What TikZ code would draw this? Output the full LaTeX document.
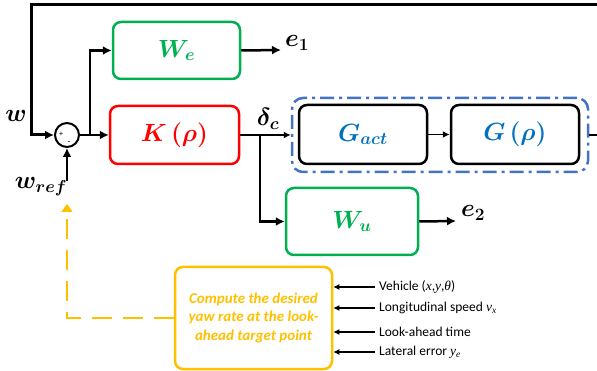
\documentclass[tikz,border=0pt]{standalone}
\usepackage{fontspec}
\usepackage{amsmath,bm}
\setmainfont{Carlito}
\newfontfamily\tmsfont{Liberation Serif}
\usetikzlibrary{arrows.meta}
\definecolor{grn}{RGB}{0,176,80}
\definecolor{rd}{RGB}{255,0,0}
\definecolor{blu}{RGB}{0,112,192}
\definecolor{dblu}{RGB}{68,114,196}
\definecolor{org}{RGB}{255,192,0}
\begin{document}
\begin{tikzpicture}[x=1pt,y=-1pt,
  blockbox/.style={draw, rounded corners=8pt, line width=2.5pt, align=center, inner sep=0pt},
  bigtxt/.style={font=\fontsize{24}{27}\selectfont},
  ln/.style={line width=2.5pt, -{Latex[length=9pt,width=9pt]}},
  thinln/.style={line width=1.5pt, -{Latex[length=7pt,width=7pt]}},
  inln/.style={line width=1.3pt, -{Latex[length=6pt,width=6pt]}},
  odash/.style={draw=org, line width=2.5pt, dash pattern=on 20pt off 11pt, -{Triangle[length=8pt,width=11pt]}},
  inlbl/.style={anchor=west, inner sep=0pt, font=\fontsize{13.5}{15}\selectfont}
]
\useasboundingbox (0,0) rectangle (597,371);

% blocks
\node[blockbox, draw=grn, text=grn, bigtxt, minimum width=127pt, minimum height=57pt] (We) at (176.5,50.5) {$\bm{W_e}$};
\node[blockbox, draw=rd, text=rd, bigtxt, minimum width=129pt, minimum height=58pt] (K) at (174.5,135) {$\bm{K\,(\rho)}$};
\node[draw=dblu, line width=2.5pt, rounded corners=11pt, dash pattern=on 14pt off 5pt on 3pt off 5pt, minimum width=296pt, minimum height=74pt, inner sep=0pt] (dbox) at (440,135) {};
\node[blockbox, draw=black, text=blu, bigtxt, minimum width=128pt, minimum height=59pt] (Gact) at (363,134.5) {$\bm{G_{act}}$};
\node[blockbox, draw=black, text=blu, bigtxt, minimum width=128pt, minimum height=59pt] (G) at (515,134.5) {$\bm{G\,(\rho)}$};
\node[blockbox, draw=grn, text=grn, bigtxt, minimum width=132pt, minimum height=67pt] (Wu) at (352,221.5) {$\bm{W_u}$};
\node[blockbox, draw=org, text=org, minimum width=157pt, minimum height=102pt, font=\fontsize{15}{18.5}\selectfont\bfseries\itshape] (comp) at (253.5,318) {Compute the desired\\yaw rate at the look-\\ahead target point};

% summing junction
\node[draw, circle, line width=2pt, minimum size=24pt, inner sep=0pt] (sum) at (67,135) {};
\node[inner sep=0pt, font=\fontsize{8}{8}\selectfont] (plus) at (61,134) {+};
\node[inner sep=0pt, font=\fontsize{9}{9}\selectfont] (minus) at (69,143) {-};

% labels
\node[bigtxt] (wl) at (16,116) {$\bm{w}$};
\node[bigtxt] (wrefl) at (41,187) {$\bm{w_{ref}}$};
\node[bigtxt] (dl) at (268,119) {$\bm{\delta_c}$};
\node[bigtxt] (e1l) at (297,43) {$\bm{e_1}$};
\node[bigtxt] (e2l) at (473,213) {$\bm{e_2}$};

% coordinates
\coordinate (fbR) at (597,5);
\coordinate (fbL) at (31,5);
\coordinate (br1) at (90,135);
\coordinate (br2) at (260,135);
\coordinate (e1end) at (281,50);
\coordinate (e2end) at (456,221);
\coordinate (outR) at (597,135);
\coordinate (wrefS) at (67,181);
\coordinate (oc) at (67,318);
\coordinate (oend) at (67,204);

% connectors
\draw[line width=3pt, -{Latex[length=9pt,width=9pt]}] (fbR) -- (fbL) |- (sum.west);
\draw[ln] (sum.east) -- (K.west);
\draw[ln] (br1) |- (We.west);
\draw[ln] (We.east) -- (e1end);
\draw[thinln] (K.east) -- (dbox.west);
\draw[ln] (br2) |- (Wu.west);
\draw[thinln] (Gact.east) -- (G.west);
\draw[line width=2.5pt] (dbox.east) -- (outR);
\draw[ln] (Wu.east) -- (e2end);
\draw[ln] (wrefS) -- (sum.south);
\draw[odash] (comp.west) -- (oc) -- (oend);

% inputs
\foreach \yy/\nm/\txt in {
  287/i1/{Vehicle ({\tmsfont\itshape x},{\tmsfont\itshape y},{\tmsfont\itshape θ})},
  308/i2/{Longitudinal speed {\tmsfont\itshape v\textsubscript{x}}},
  332/i3/{Look-ahead time},
  352/i4/{Lateral error {\tmsfont\itshape y\textsubscript{e}}}} {
  \coordinate (\nm) at (375,\yy);
  \draw[inln] (\nm) -- (comp.east |- \nm);
  \node[inlbl] (\nm t) at (379,\yy) {\txt};
}
\end{tikzpicture}
\end{document}
